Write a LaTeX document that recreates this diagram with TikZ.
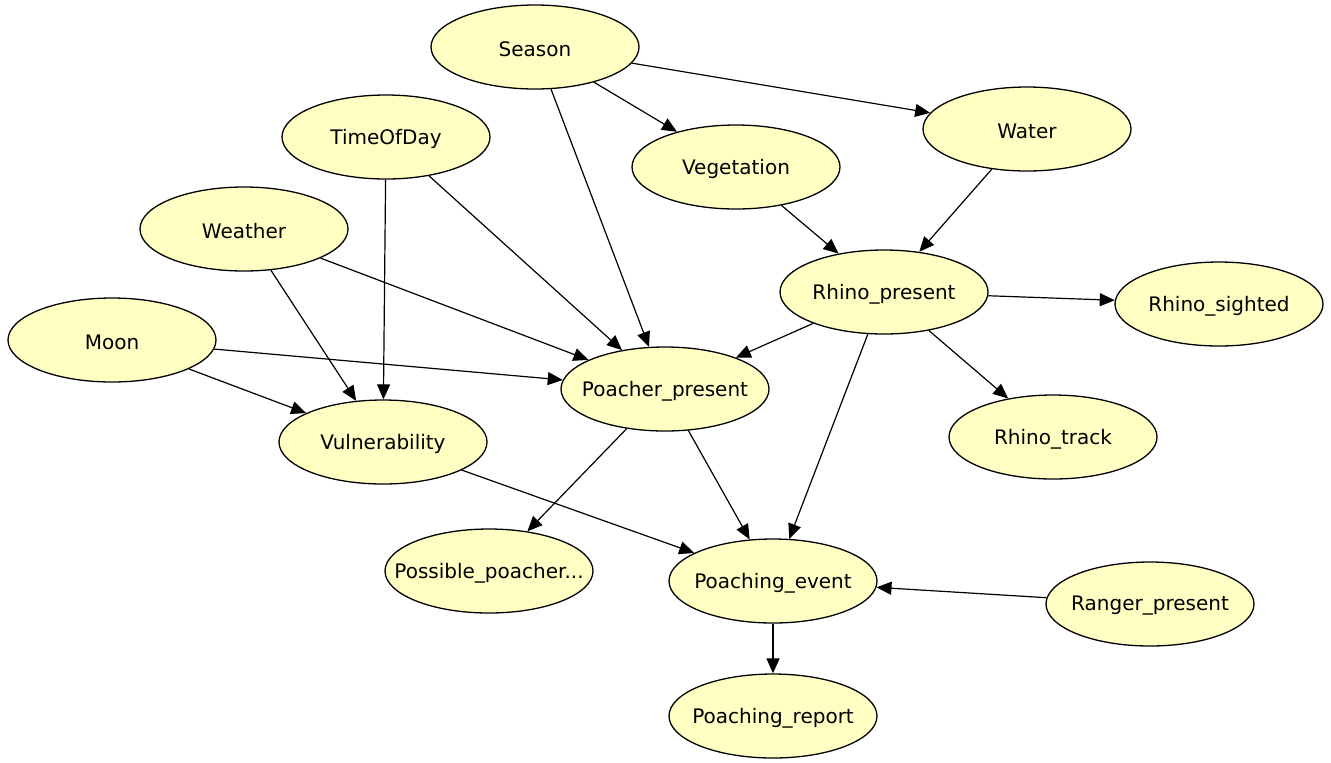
\documentclass[tikz,border=0pt]{standalone}
\usepackage{fontspec}
\setmainfont{DejaVu Sans}
\usetikzlibrary{shapes.geometric,arrows.meta}
\definecolor{nodefill}{RGB}{255,255,195}

\begin{document}
\begin{tikzpicture}[x=0.5pt, y=-0.5pt,
        var/.style={ellipse, draw, line width=0.65pt, fill=nodefill, minimum width=104pt, minimum height=42pt, inner sep=0pt},
        lbl/.style={font=\fontsize{10}{12}\selectfont, yshift=-1pt},
        link/.style={-{Triangle[length=7.5pt,width=6.5pt]}, line width=0.6pt}]
            \useasboundingbox (0, 0) rectangle (1331, 762);
            % variables
            \node[var, label={[lbl]center:Season}] (season) at (535, 47) {};
            \node[var, label={[lbl]center:TimeOfDay}] (time) at (386, 137) {};
            \node[var, label={[lbl]center:Weather}] (weather) at (244, 229) {};
            \node[var, label={[lbl]center:Moon}] (moon) at (112, 340) {};
            \node[var, label={[lbl]center:Vegetation}] (veg) at (736, 167) {};
            \node[var, label={[lbl]center:Water}] (water) at (1027, 129) {};
            \node[var, label={[lbl]center:Rhino\_present}] (rhino) at (884, 292) {};
            \node[var, label={[lbl]center:Rhino\_sighted}] (sighted) at (1219, 304) {};
            \node[var, label={[lbl]center:Poacher\_present}] (poacher) at (665, 389) {};
            \node[var, label={[lbl]center:Vulnerability}] (vuln) at (383, 442) {};
            \node[var, label={[lbl]center:Rhino\_track}] (track) at (1053, 437) {};
            \node[var, label={[lbl]center:Possible\_poacher...}] (possible) at (489, 571) {};
            \node[var, label={[lbl]center:Poaching\_event}] (event) at (773, 581) {};
            \node[var, label={[lbl]center:Ranger\_present}] (ranger) at (1150, 604) {};
            \node[var, label={[lbl]center:Poaching\_report}] (report) at (773, 716) {};
            % links
            \draw[link] (season) -- (water);
            \draw[link] (season) -- (veg);
            \draw[link] (season) -- (poacher);
            \draw[link] (time) -- (vuln);
            \draw[link] (time) -- (poacher);
            \draw[link] (weather) -- (poacher);
            \draw[link] (weather) -- (vuln);
            \draw[link] (moon) -- (poacher);
            \draw[link] (moon) -- (vuln);
            \draw[link] (veg) -- (rhino);
            \draw[link] (water) -- (rhino);
            \draw[link] (rhino) -- (sighted);
            \draw[link] (rhino) -- (poacher);
            \draw[link] (rhino) -- (track);
            \draw[link] (rhino) -- (event);
            \draw[link] (poacher) -- (possible);
            \draw[link] (poacher) -- (event);
            \draw[link] (vuln) -- (event);
            \draw[link] (ranger) -- (event);
            \draw[link] (event) -- (report);
        \end{tikzpicture}
\end{document}
